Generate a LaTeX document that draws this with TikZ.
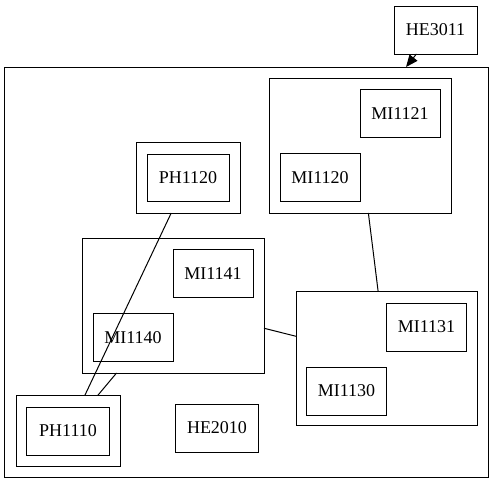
\documentclass[tikz,border=0pt]{standalone}
\usepackage{fontspec}
\setmainfont{Liberation Serif}
\usetikzlibrary{arrows.meta}
\begin{document}
\begin{tikzpicture}[x=1pt,y=-1pt,
  box/.style={draw=black,line width=1pt,rectangle,inner sep=0pt,outer sep=0pt,
    font=\fontsize{18}{20}\selectfont},
  edge/.style={draw=black,line width=1pt}]
\useasboundingbox (0,0) rectangle (493,483);
% outer cluster
\node[box,minimum width=484,minimum height=410] (outer) at (246,272) {};
% top node
\node[box,minimum width=83,minimum height=48] (he3011) at (435.5,30) {HE3011};
% MI112x cluster
\node[box,minimum width=182,minimum height=135] (c112) at (360,145.5) {};
\node[box,minimum width=80,minimum height=48] (mi1121) at (400,113.5) {MI1121};
\node[box,minimum width=80,minimum height=48] (mi1120) at (320,177.5) {MI1120};
% PH1120 cluster
\node[box,minimum width=104,minimum height=71] (c1120) at (188,177.5) {};
\node[box,minimum width=82,minimum height=47] (ph1120) at (188,177.5) {PH1120};
% MI114x cluster
\node[box,minimum width=182,minimum height=135] (c114) at (173,305.5) {};
\node[box,minimum width=80,minimum height=48] (mi1141) at (213,273.5) {MI1141};
\node[box,minimum width=80,minimum height=48] (mi1140) at (133,337.5) {MI1140};
% MI113x cluster
\node[box,minimum width=181,minimum height=134] (c113) at (386.5,358.8) {};
\node[box,minimum width=80,minimum height=48] (mi1131) at (426.5,327) {MI1131};
\node[box,minimum width=80,minimum height=48] (mi1130) at (346.5,391) {MI1130};
% PH1110 cluster
\node[box,minimum width=104,minimum height=71] (c1110) at (68,431) {};
\node[box,minimum width=83,minimum height=48] (ph1110) at (68,431) {PH1110};
% HE2010
\node[box,minimum width=83,minimum height=48] (he2010) at (217,428) {HE2010};
% edges
\draw[edge] (c1120) -- (c1110);
\draw[edge] (c114) -- (c1110);
\draw[edge] (c114) -- (c113);
\draw[edge] (c112) -- (c113);
\draw[edge,-{Triangle[length=12pt,width=10pt]}] (he3011) -- (outer);
\end{tikzpicture}
\end{document}
